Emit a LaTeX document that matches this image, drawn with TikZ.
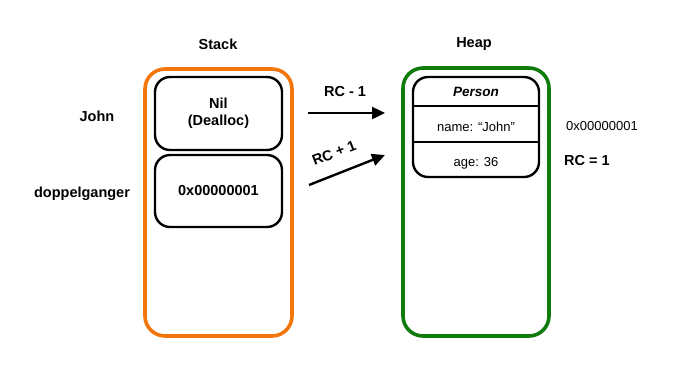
\documentclass[tikz,border=0pt]{standalone}
\usepackage{fontspec}
\setmainfont{Liberation Sans}
\usetikzlibrary{arrows.meta}
\definecolor{stackorange}{RGB}{242,118,12}
\definecolor{heapgreen}{RGB}{16,122,10}
\tikzset{
  rough/.style={line width=3.6pt, rounded corners=20pt},
  cell/.style={draw, line width=2.4pt, rounded corners=15pt, inner sep=0pt, align=center},
  bigtxt/.style={font=\fontsize{14.5}{17}\selectfont\bfseries, inner sep=0pt, align=center},
  smalltxt/.style={font=\fontsize{13}{15}\selectfont, inner sep=0pt},
  ptr/.style={line width=2.4pt, -{Triangle[length=13pt,width=12pt]}}
}
\begin{document}
\begin{tikzpicture}[x=1pt,y=-1pt]
\useasboundingbox (0,0) rectangle (692,389);
% containers
\draw[rough, stackorange] (145,69) rectangle (292,336);
\draw[rough, heapgreen] (403,68) rectangle (549,336);
% titles
\node[bigtxt] (stack) at (218,44) {Stack};
\node[bigtxt] (heap) at (474,44) {Heap};
% stack cells
\node[cell, minimum width=127pt, minimum height=73pt, font=\fontsize{14.5}{17}\selectfont\bfseries] (nil) at (218.5,113.5) {Nil\\(Dealloc)};
\node[cell, minimum width=127pt, minimum height=72pt, font=\fontsize{14.5}{17}\selectfont\bfseries] (addr) at (218.5,191) {0x00000001};
% variable labels
\node[bigtxt] (john) at (97,116) {John};
\node[bigtxt] (dop) at (82,194) {doppelganger};
% heap object
\node[cell, minimum width=126pt, minimum height=100pt] (person) at (476,127) {};
\draw[line width=2.4pt] (person.west |- 0,106) -- (person.east |- 0,106);
\draw[line width=2.4pt] (person.west |- 0,142) -- (person.east |- 0,142);
\node[font=\fontsize{13.5}{16}\selectfont\bfseries\itshape, inner sep=0pt] (pname) at (476,92) {Person};
\node[smalltxt] (fname) at (476,127) {name: “John”};
\node[smalltxt] (fage) at (476,163) {age: 36};
% right labels
\node[smalltxt] (haddr) at (602,126) {0x00000001};
\node[bigtxt] (rc) at (587,161) {RC = 1};
% arrows
\coordinate (a1s) at (308,113);
\coordinate (a1e) at (385,113);
\coordinate (a2s) at (309,185);
\coordinate (a2e) at (385,155);
\draw[ptr] (a1s) -- (a1e);
\draw[ptr] (a2s) -- (a2e);
\node[bigtxt] (rcm) at (345,92) {RC - 1};
\node[bigtxt, rotate=21.3] (rcp) at (334,153) {RC + 1};
\end{tikzpicture}
\end{document}
